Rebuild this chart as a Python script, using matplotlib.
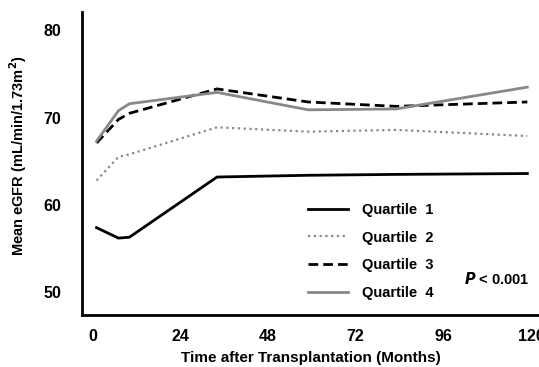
import matplotlib
matplotlib.use("Agg")
import matplotlib.pyplot as plt

plt.rcParams['font.family'] = ['Liberation Sans', 'DejaVu Sans']
plt.rcParams['font.weight'] = 'bold'
plt.rcParams['axes.labelweight'] = 'bold'

months = [1, 7, 10, 34, 59, 83, 119]
q1 = [57.4, 56.2, 56.3, 63.2, 63.4, 63.5, 63.6]
q2 = [62.8, 65.5, 65.8, 68.9, 68.4, 68.6, 67.9]
q3 = [67.1, 69.8, 70.5, 73.3, 71.8, 71.3, 71.8]
q4 = [67.3, 70.8, 71.6, 72.9, 70.9, 71.0, 73.5]
xticks = [0, 24, 48, 72, 96, 120]
yticks = [50, 60, 70, 80]

fig = plt.figure(figsize=(5.39, 3.67), dpi=100)
ax = fig.add_axes([0.152, 0.142, 0.848, 0.825])

ax.plot(months, q1, color='black', lw=2, label='Quartile  1')
ax.plot(months, q2, color='#888888', lw=1.6, ls=(0, (1, 1.6)), label='Quartile  2')
ax.plot(months, q3, color='black', lw=2, ls=(0, (3.5, 1.8)), label='Quartile  3')
ax.plot(months, q4, color='#888888', lw=2, label='Quartile  4')

ax.set_xlim(-3, 122.2)
ax.set_ylim(47.4, 82.1)
ax.set_xticks(xticks)
ax.set_yticks(yticks)
ax.tick_params(length=0, labelsize=11.5)
ax.tick_params(axis='y', pad=15)
ax.tick_params(axis='x', pad=10)
for s in ['top', 'right']:
    ax.spines[s].set_visible(False)
for s in ['left', 'bottom']:
    ax.spines[s].set_linewidth(2)

ax.set_xlabel('Time after Transplantation (Months)', fontsize=11, labelpad=5)
ax.set_ylabel('Mean eGFR (mL/min/1.73m$^\\mathbf{2}$)', fontsize=10.5)
ax.yaxis.set_label_coords(-0.115, 0.525)

leg = ax.legend(loc='lower left', bbox_to_anchor=(0.465, 0.005), frameon=False,
                fontsize=10.5, handlelength=2.8, handletextpad=0.9, labelspacing=0.95)
ax.text(0.837, 0.12, '$\\mathbfit{P}$ < 0.001', transform=ax.transAxes,
        fontsize=10.5, ha='left', va='center')

fig.savefig('out.png')
